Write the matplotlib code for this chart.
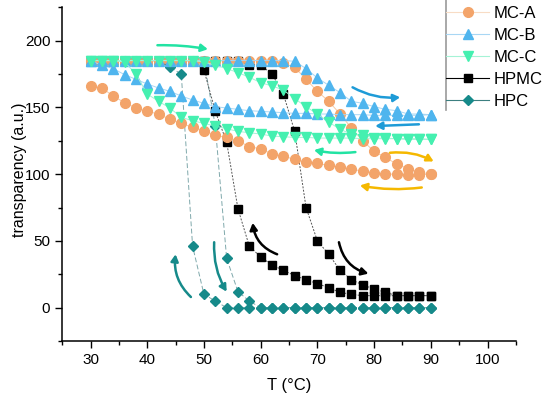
import numpy as np
import matplotlib.pyplot as plt
from matplotlib.patches import FancyArrowPatch
from matplotlib.lines import Line2D

plt.rcParams['font.family'] = ['Liberation Sans', 'DejaVu Sans']

temp = list(range(30, 91, 2))

# heating runs (30 -> 90) and cooling runs (values listed from 30 up to 90)
mca_heat = [185] * 17 + [183, 180, 171, 162, 154.5, 145, 134.5, 125, 117, 112.5, 107.5, 104, 101.5, 100]
mca_cool = [166, 164.5, 158.5, 153.5, 149.5, 147, 145, 141, 138, 135, 132.5, 129, 127.5, 125, 120.5, 119,
            115, 113.5, 111, 109, 108, 106.5, 105, 104, 102, 101, 100, 100, 99.5, 99.5, 100]
mcb_heat = [185] * 18 + [184.5, 179, 172, 166.5, 161, 154.5, 153, 150.5, 148.5, 147.5, 145, 145, 144.5]
mcb_cool = [185, 181.5, 179, 174.5, 171, 167.5, 164.5, 162, 158.5, 155.5, 153, 150.5, 149.5, 148.5, 147.5, 147,
            146.5, 146, 145.5, 145.5, 145, 145, 144.5, 144.5, 144.5, 144, 144, 144, 144, 144, 144.5]
mcc_heat = [185] * 10 + [184, 181.5, 179, 176, 172.5, 168.5, 166, 163, 156.5, 150.5, 145, 139, 133.5, 130, 129,
                         127, 127, 126.5, 126.5, 126.5, 126]
mcc_cool = [185, 185, 185, 184, 175, 160, 154.5, 149.5, 142.5, 140, 138, 136, 134, 132, 131, 130, 128.5, 128,
            127.5, 127.5, 127, 127, 127, 127, 126.5, 126.5, 126.5, 126.5, 126, 126, 126]
hpmc_heat = [185] * 14 + [182, 181.5, 175, 160, 132, 75, 50, 40, 28, 21, 17, 14, 11.5, 9, 9, 9, 9]
hpmc_cool = [185] * 10 + [178, 147, 124, 74, 46, 38, 32, 28, 24, 21, 18, 15, 11.5, 10, 9, 9, 9, 9, 9, 9, 9]
hpc_heat = [185] * 11 + [136, 37, 12, 5] + [0] * 16
hpc_cool = [185] * 7 + [180, 175, 46, 10, 5] + [0] * 19

names = ['MC-A', 'MC-B', 'MC-C', 'HPMC', 'HPC']

fig = plt.figure(figsize=(5.5, 3.98), dpi=100)
ax = fig.add_axes([0.113, 0.143, 0.825, 0.839])

x_all = temp + temp[::-1]


def draw(heat, cool, marker, color, lcolor, ms, ls='-', z=3):
    y = heat + cool[::-1]
    ax.plot(x_all, y, ls=ls, lw=0.7, color=lcolor, zorder=z)
    ax.plot(x_all, y, ls='none', marker=marker, ms=ms, color=color, mec=color, zorder=z + 0.5)


draw(hpc_heat, hpc_cool, 'D', '#168a8a', '#7fa8ab', 5.5, ls=(0, (5, 2.5)), z=2)
draw(hpmc_heat, hpmc_cool, 's', '#000000', '#555555', 5.5, ls=(0, (2, 1.5)), z=3)
draw(mca_heat, mca_cool, 'o', '#f3a46a', '#f6c9a5', 7, z=4)
draw(mcb_heat, mcb_cool, '^', '#4fb5ee', '#a8d7f4', 7, z=5)
draw(mcc_heat, mcc_cool, 'v', '#45f0b0', '#a5f3d6', 7, z=6)


def arrow(p0, p1, color, rad):
    a = FancyArrowPatch(p0, p1, connectionstyle='arc3,rad=%s' % rad, arrowstyle='-|>,head_length=4,head_width=2.2',
                        color=color, lw=1.8, zorder=8, shrinkA=0, shrinkB=0)
    ax.add_patch(a)


arrow((41.8, 196.5), (50.7, 193.5), '#22e3a3', -0.05)
arrow((76.2, 165), (84.6, 157.5), '#1e9bd7', 0.15)
arrow((87.9, 137.3), (80.2, 136), '#1e9bd7', 0.0)
arrow((76.7, 116.5), (69.4, 118), '#22e3a3', -0.08)
arrow((82.8, 116), (90.5, 109.5), '#f5b800', -0.15)
arrow((88.4, 90), (77.5, 91.5), '#f5b800', -0.08)
arrow((62.9, 40), (58.6, 63.5), '#000000', -0.3)
arrow((73.8, 49), (79, 25.5), '#000000', 0.3)
arrow((47.7, 8), (45, 40), '#168a8a', -0.25)
arrow((51.8, 49), (54, 12), '#168a8a', 0.15)

ax.set_xlim(25, 105)
ax.set_ylim(-25, 225)
ax.set_xticks(np.arange(30, 101, 10))
ax.set_xticks(np.arange(25, 106, 5), minor=True)
ax.set_yticks(np.arange(0, 201, 50))
ax.set_yticks(np.arange(-25, 226, 25), minor=True)
ax.tick_params(which='major', direction='out', length=5, width=1, labelsize=11)
ax.tick_params(which='minor', direction='out', length=3, width=1)
ax.spines['top'].set_visible(False)
ax.spines['right'].set_visible(False)
ax.spines['left'].set_linewidth(1.1)
ax.spines['bottom'].set_linewidth(1.1)
ax.set_xlabel('T (°C)', fontsize=12)
ax.set_ylabel('transparency (a.u.)', fontsize=11.5)
ax.xaxis.set_label_coords(0.5, -0.112)
ax.yaxis.set_label_coords(-0.078, 0.513)

handles = [
    Line2D([], [], color='#f8dcc5', lw=0.8, marker='o', ms=7, mfc='#f3a46a', mec='#f3a46a'),
    Line2D([], [], color='#a8d7f4', lw=0.8, marker='^', ms=7, mfc='#4fb5ee', mec='#4fb5ee'),
    Line2D([], [], color='#a5f3d6', lw=0.8, marker='v', ms=7, mfc='#45f0b0', mec='#45f0b0'),
    Line2D([], [], color='#000000', lw=0.8, marker='s', ms=5.5, mfc='#000000', mec='#000000'),
    Line2D([], [], color='#3c7f80', lw=0.8, marker='D', ms=5.5, mfc='#168a8a', mec='#168a8a'),
]
fig.legend(handles, names, loc='upper left', bbox_to_anchor=(446 / 550, 1 - 6 / 398), frameon=False,
           fontsize=12, handlelength=2.6, handletextpad=0.25, borderpad=0, borderaxespad=0, labelspacing=0.42)
fig.add_artist(Line2D([446 / 550, 446 / 550], [1 - 110 / 398, 1.0], color='#999999', lw=1.2,
                      transform=fig.transFigure))

fig.savefig('out.png', dpi=100)
